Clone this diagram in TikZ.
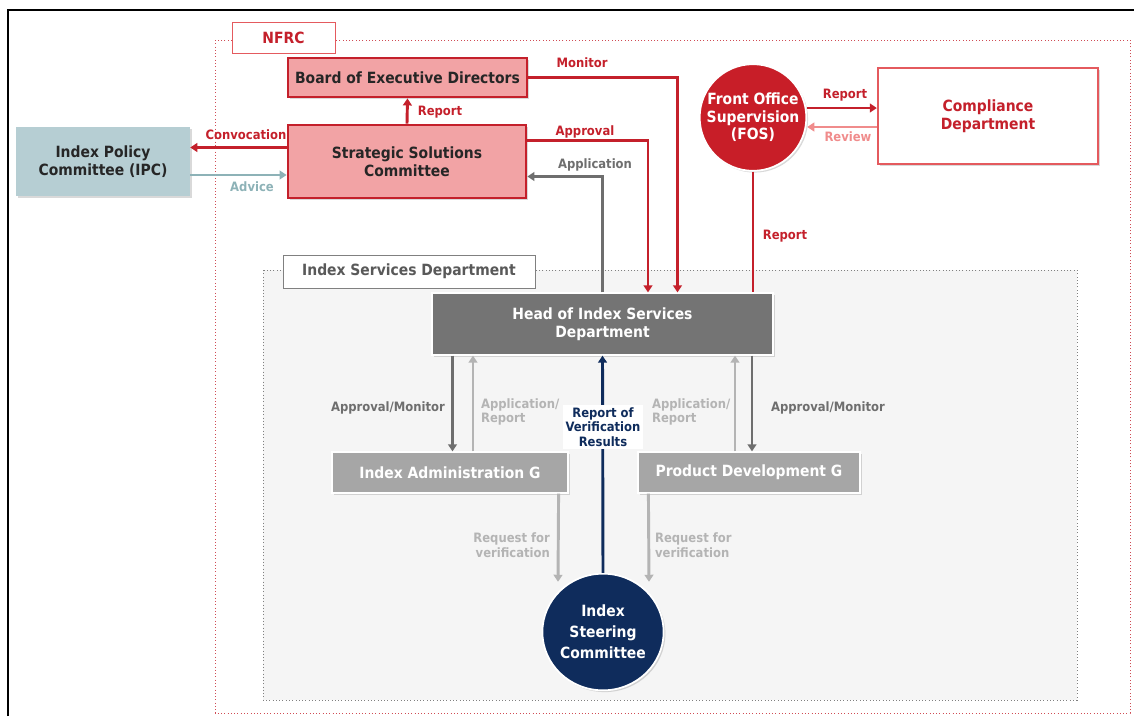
\documentclass[tikz,border=0pt]{standalone}
\usepackage{fontspec}
\setmainfont{DejaVu Sans Condensed}
\usetikzlibrary{arrows.meta,calc,shapes.geometric,shadows}

\definecolor{nfred}{HTML}{C4202B}
\definecolor{boxpink}{HTML}{F2A3A5}
\definecolor{fosred}{HTML}{C81E28}
\definecolor{compred}{HTML}{E45A5E}
\definecolor{reviewred}{HTML}{F08C8C}
\definecolor{ipcblue}{HTML}{B6CED3}
\definecolor{advteal}{HTML}{8DB2B7}
\definecolor{headgray}{HTML}{747474}
\definecolor{grpgray}{HTML}{A6A6A6}
\definecolor{darkline}{HTML}{6E6E6E}
\definecolor{lightline}{HTML}{B4B4B4}
\definecolor{navy}{HTML}{0F2C5C}
\definecolor{isdfill}{HTML}{F5F5F5}

\tikzset{
  boxfont/.style={font=\bfseries\fontsize{13.2}{15}\selectfont},
  lblfont/.style={font=\bfseries\fontsize{11}{12.5}\selectfont},
  shade/.style={drop shadow={opacity=0.3,shadow xshift=1.5pt,shadow yshift=-1.5pt}},
  redbox/.style={boxfont, shade, draw=nfred, line width=2.4pt, fill=boxpink, align=center, text=black!85},
  graybox/.style={boxfont, shade, draw=white, line width=1pt, align=center, text=white},
  tag/.style={boxfont, draw, fill=white, line width=0.8pt},
  tip/.style={-{Triangle[length=6pt,width=7.5pt]}},
  wire/.style={line width=2.5pt},
  lbl/.style={lblfont, align=center}
}

\begin{document}
\begin{tikzpicture}[x=0.03cm,y=-0.03cm]
\useasboundingbox (0,0) rectangle (1134,716);
\draw[line width=1.3pt] (8,716) -- (8,10) -- (1134,10);

% frames
\draw[nfred!80, dotted, line width=0.8pt] (215,40) rectangle (1130,713);
\draw[gray, dotted, line width=0.8pt, fill=isdfill] (263,270) rectangle (1077,700);
\node[tag, draw=compred, text=nfred, minimum width=3.09cm, minimum height=0.93cm] (nfrc) at (283.5,37.5) {NFRC};
\node[tag, draw=gray, text=black!65, minimum width=7.56cm, minimum height=0.99cm] (isd) at (409,271.5) {Index Services Department};

% boxes
\node[redbox, minimum width=7.17cm, minimum height=1.17cm] (bed) at (407.5,77.5) {Board of Executive Directors};
\node[redbox, minimum width=7.14cm, minimum height=2.19cm] (ssc) at (407,161.5) {Strategic Solutions\\Committee};
\node[boxfont, shade, fill=ipcblue, text=black!85, align=center, minimum width=5.22cm, minimum height=2.07cm] (ipc) at (103,161.5) {Index Policy\\Committee (IPC)};
\node[boxfont, shade, circle, fill=fosred, draw=white, line width=1.5pt, text=white, align=center, minimum size=3.2cm, inner sep=0pt] (fos) at (753,117.5) {Front Office\\Supervision\\(FOS)};
\node[boxfont, shade, draw=compred, line width=2pt, fill=white, text=nfred, align=center, minimum width=6.6cm, minimum height=2.88cm] (comp) at (988,116) {Compliance\\Department};
\node[graybox, fill=headgray, minimum width=10.23cm, minimum height=1.86cm] (hisd) at (602.5,324) {Head of Index Services\\Department};
\node[graybox, fill=grpgray, minimum width=7.08cm, minimum height=1.23cm] (iag) at (450,472.5) {Index Administration G};
\node[graybox, fill=grpgray, minimum width=6.66cm, minimum height=1.23cm] (pdg) at (749,472.5) {Product Development G};
\node[boxfont, shade, ellipse, fill=navy, draw=white, line width=1.5pt, text=white, align=center, minimum width=3.6cm, minimum height=3.5cm, inner sep=0pt] (isc) at (603,632) {Index\\[3pt]Steering\\[3pt]Committee};

% end points of the connectors
\coordinate (conv) at ($(ssc.west)+(0,-14)$);
\coordinate (adv) at ($(ipc.east)+(0,13.5)$);
\coordinate (mon) at ($(hisd.north)+(75,0)$);
\coordinate (appr) at ($(ssc.east)+(0,-21)$);
\coordinate (appl) at ($(ssc.east)+(0,15)$);
\coordinate (fosrep) at ($(fos.east)+(0,-9.5)$);
\coordinate (rev) at ($(comp.west)+(0,11)$);
\coordinate (am1) at ($(hisd.south)+(-150,0)$);
\coordinate (ar1) at ($(hisd.south)+(-129.5,0)$);
\coordinate (ar2) at ($(hisd.south)+(132.5,0)$);
\coordinate (am2) at ($(hisd.south)+(149.5,0)$);
\coordinate (req1) at ($(iag.south east)+(-10,0)$);
\coordinate (req2) at ($(pdg.south west)+(11,0)$);

% connectors
\draw[wire, tip, nfred] (conv) -- (conv -| ipc.east);
\draw[wire, tip, advteal] (adv) -- (adv -| ssc.west);
\draw[wire, tip, nfred] (ssc.north) -- (bed.south);
\draw[wire, tip, nfred] (bed.east) -| (mon);
\draw[wire, tip, nfred] (appr) -| ($(hisd.north)+(45.5,0)$);
\draw[wire, tip, darkline] (hisd.north) |- (appl);
\draw[wire, tip, nfred] (fosrep) -- (fosrep -| comp.west);
\draw[wire, tip, reviewred] (rev) -- (rev -| fos.east);
\draw[wire, nfred] (fos.south) -- (fos.south |- hisd.north);

\draw[wire, tip, darkline] (am1) -- (am1 |- iag.north);
\draw[wire, tip, lightline] (ar1 |- iag.north) -- (ar1);
\draw[wire, tip, lightline] (ar2 |- pdg.north) -- (ar2);
\draw[wire, tip, darkline] (am2) -- (am2 |- pdg.north);
\draw[wire, tip, navy] (isc.north) -- (hisd.south);
\draw[wire, tip, lightline] (req1) -- ($(isc.north)+(-45,9)$);
\draw[wire, tip, lightline] (req2) -- ($(isc.north)+(46,9)$);

% labels
\node[lbl, text=nfred] (lconv) at (246,135) {Convocation};
\node[lbl, text=advteal] (ladv) at (252,187) {Advice};
\node[lbl, text=nfred] (lrep1) at (440,112) {Report};
\node[lbl, text=nfred] (lmon) at (582,63) {Monitor};
\node[lbl, text=nfred] (lappr) at (585,132) {Approval};
\node[lbl, text=darkline] (lappl) at (595,165) {Application};
\node[lbl, text=nfred] (lrep2) at (845,95) {Report};
\node[lbl, text=reviewred] (lrev) at (848,137) {Review};
\node[lbl, text=nfred] (lrep3) at (785,236) {Report};
\node[lbl, text=darkline] (lam1) at (388,408) {Approval/Monitor};
\node[lbl, text=lightline, align=left, anchor=west] (lar1) at (477,412) {Application/\\Report};
\node[lbl, text=navy, fill=white, inner sep=2pt] (lver) at (603,427) {Report of\\Verification\\Results};
\node[lbl, text=lightline, align=left, anchor=west] (lar2) at (648,412) {Application/\\Report};
\node[lbl, text=darkline] (lam2) at (828,408) {Approval/Monitor};
\node[lbl, text=lightline, align=right, anchor=east] (lreq1) at (554,545) {Request for\\verification};
\node[lbl, text=lightline, align=left, anchor=west] (lreq2) at (651,545) {Request for\\verification};
\end{tikzpicture}
\end{document}
